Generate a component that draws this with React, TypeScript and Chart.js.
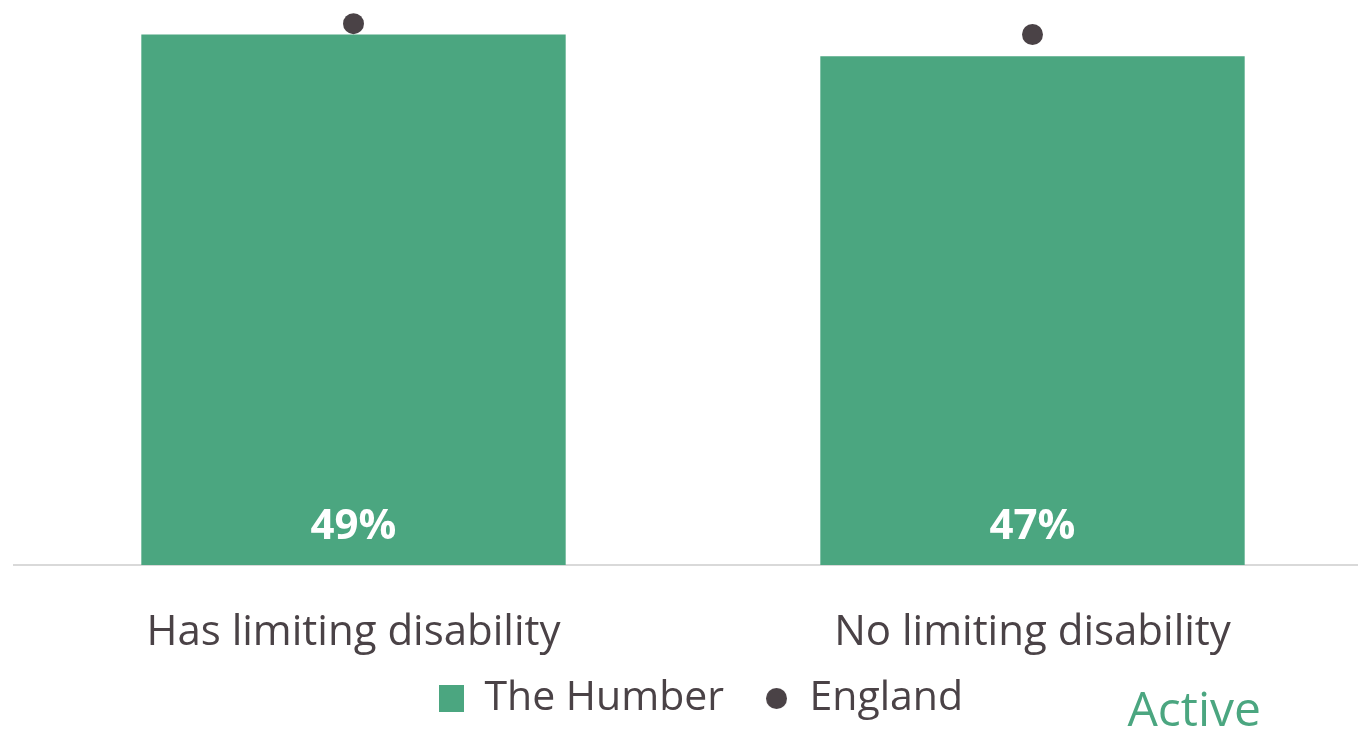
import React, { useEffect, useRef } from "react";
import { Chart, registerables } from "chart.js";

Chart.register(...registerables);

const categories: string[] = ["Has limiting disability", "No limiting disability"];
const humberValues: number[] = [49, 47];
const englandValues: number[] = [50, 49];
const seriesNames: string[] = ["The Humber", "England"];
const cornerLabel = "Active";

const GREEN = "#4ba680";
const DARK = "#4a4246";
const FONT = "'Open Sans', sans-serif";

function makeSquare(w: number, h: number, color: string) {
  const c = document.createElement("canvas");
  c.width = w;
  c.height = h;
  const ctx = c.getContext("2d")!;
  ctx.fillStyle = color;
  ctx.fillRect(0, 0, w, h);
  return c;
}
function makeCircle(r: number, color: string) {
  const c = document.createElement("canvas");
  c.width = Math.ceil(r * 2);
  c.height = Math.ceil(r * 2);
  const ctx = c.getContext("2d")!;
  ctx.fillStyle = color;
  ctx.beginPath();
  ctx.arc(r, r, r, 0, Math.PI * 2);
  ctx.fill();
  return c;
}

export default function App() {
  const ref = useRef<HTMLCanvasElement | null>(null);
  useEffect(() => {
    if (!ref.current) return;
    const sq = makeSquare(25, 27, GREEN);
    const circ = makeCircle(10.5, DARK);

    const barLabels = {
      id: "barLabels",
      afterDatasetsDraw(chart: any) {
        const ctx = chart.ctx;
        const meta = chart.getDatasetMeta(0);
        ctx.save();
        ctx.fillStyle = "#ffffff";
        ctx.font = `bold 42px ${FONT}`;
        ctx.textAlign = "center";
        ctx.textBaseline = "middle";
        meta.data.forEach((el: any, i: number) => {
          ctx.fillText(`${humberValues[i]}%`, el.x, el.base - 38);
        });
        ctx.restore();
      },
    };
    const corner = {
      id: "corner",
      afterDraw(chart: any) {
        const ctx = chart.ctx;
        ctx.save();
        ctx.fillStyle = GREEN;
        ctx.font = `48px ${FONT}`;
        ctx.textAlign = "right";
        ctx.textBaseline = "alphabetic";
        ctx.fillText(cornerLabel, 1261, 726);
        ctx.restore();
      },
    };
    const legendShift = {
      id: "legendShift",
      afterLayout(chart: any) {
        const lg = chart.legend;
        if (!lg) return;
        lg.top -= 18;
        lg.bottom -= 18;
        lg.left += 8;
        lg.right += 8;
      },
    };

    const chart = new Chart(ref.current, {
      type: "bar",
      data: {
        labels: categories,
        datasets: [
          {
            type: "bar",
            label: seriesNames[0],
            data: humberValues,
            backgroundColor: GREEN,
            borderWidth: 0,
            barPercentage: 0.625,
            categoryPercentage: 1,
            order: 1,
          },
          {
            type: "line",
            label: seriesNames[1],
            data: englandValues,
            showLine: false,
            pointRadius: 10.5,
            pointHoverRadius: 10.5,
            pointBackgroundColor: DARK,
            pointBorderWidth: 0,
            borderColor: DARK,
            backgroundColor: DARK,
            order: 0,
            clip: false,
          } as any,
        ],
      },
      options: {
        responsive: false,
        animation: false,
        layout: { autoPadding: false, padding: { top: 2, left: 14, right: 0, bottom: -18 } },
        scales: {
          x: {
            grid: { display: false },
            border: { display: true, color: "#d9d9d9", width: 2 },
            ticks: {
              color: DARK,
              font: { family: FONT, size: 42 },
              padding: 35,
            },
            afterFit(scale: any) {
              scale.height = 91;
            },
          },
          y: {
            display: false,
            min: 0,
            max: 52,
          },
        },
        plugins: {
          tooltip: { enabled: false },
          legend: {
            position: "bottom",
            labels: {
              usePointStyle: true,
              boxWidth: 25,
              boxHeight: 25,
              padding: 40,
              color: DARK,
              font: { family: FONT, size: 41 },
              sort: (a: any, b: any) => a.datasetIndex - b.datasetIndex,
              generateLabels(ch: any) {
                const items = (Chart.defaults.plugins.legend.labels as any).generateLabels(ch);
                return items.map((it: any) => ({
                  ...it,
                  pointStyle: it.datasetIndex === 0 ? sq : circ,
                }));
              },
            },
          },
        },
      },
      plugins: [barLabels, corner, legendShift],
    });
    return () => chart.destroy();
  }, []);

  return (
    <div style={{ position: "fixed", left: 0, top: 0, width: 1358, height: 729, overflow: "hidden", background: "#fff" }}>
      <div style={{ width: 1372, height: 729 }}>
        <canvas ref={ref} width={1372} height={729} style={{ display: "block", width: 1372, height: 729 }} />
      </div>
    </div>
  );
}
